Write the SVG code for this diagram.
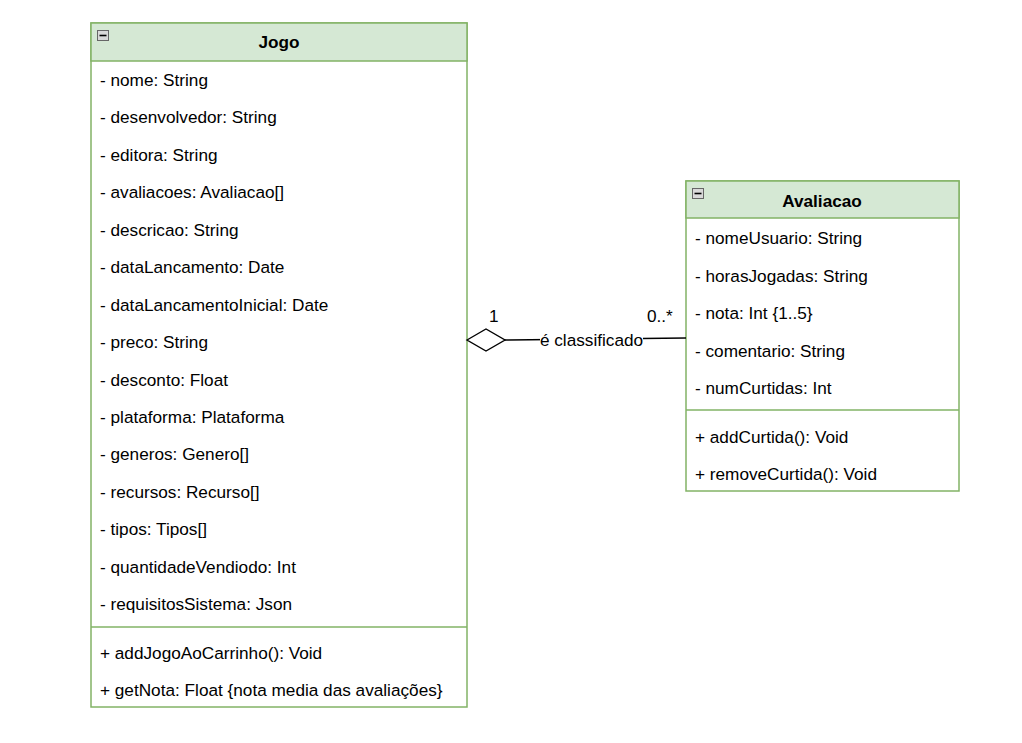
<svg xmlns="http://www.w3.org/2000/svg" width="1022" height="743" viewBox="0 0 1022 743">
<style>
text{font-family:"Liberation Sans",Arial,sans-serif;font-size:17.2px;fill:#000}
.title{font-weight:bold;text-anchor:middle}
.box{fill:#fff;stroke:#82b366;stroke-width:1.5}
.head{fill:#d5e8d4;stroke:#82b366;stroke-width:1.5}
.div{stroke:#82b366;stroke-width:1.5}
.ico{fill:#d9d9d9;stroke:#666;stroke-width:1}
.conn{fill:none;stroke:#000;stroke-width:1.4}
</style>
<rect width="1022" height="743" fill="#fff"/>
<g id="Jogo">
<rect class="box" x="91" y="23" width="376" height="684"/>
<rect class="head" x="91" y="23" width="376" height="38"/>
<rect class="ico" x="97.5" y="30.5" width="11" height="10"/>
<line x1="99.5" y1="35.5" x2="106.5" y2="35.5" stroke="#000" stroke-width="1.6"/>
<text class="title" x="279" y="48">Jogo</text>
<text x="100" y="86">- nome: String</text>
<text x="100" y="123.4">- desenvolvedor: String</text>
<text x="100" y="160.9">- editora: String</text>
<text x="100" y="198.3">- avaliacoes: Avaliacao[]</text>
<text x="100" y="235.8">- descricao: String</text>
<text x="100" y="273.2">- dataLancamento: Date</text>
<text x="100" y="310.6">- dataLancamentoInicial: Date</text>
<text x="100" y="348.1">- preco: String</text>
<text x="100" y="385.5">- desconto: Float</text>
<text x="100" y="423">- plataforma: Plataforma</text>
<text x="100" y="460.4">- generos: Genero[]</text>
<text x="100" y="497.8">- recursos: Recurso[]</text>
<text x="100" y="535.3">- tipos: Tipos[]</text>
<text x="100" y="572.7">- quantidadeVendiodo: Int</text>
<text x="100" y="610.2">- requisitosSistema: Json</text>
<line class="div" x1="91" y1="627" x2="467" y2="627"/>
<text x="100" y="658.5">+ addJogoAoCarrinho(): Void</text>
<text x="100" y="696">+ getNota: Float {nota media das avaliações}</text>
</g>
<g id="Avaliacao">
<rect class="box" x="686" y="181" width="273" height="310"/>
<rect class="head" x="686" y="181" width="273" height="37"/>
<rect class="ico" x="692.5" y="188.5" width="11" height="10"/>
<line x1="694.5" y1="193.5" x2="701.5" y2="193.5" stroke="#000" stroke-width="1.6"/>
<text class="title" x="822" y="207">Avaliacao</text>
<text x="695" y="244">- nomeUsuario: String</text>
<text x="695" y="281.5">- horasJogadas: String</text>
<text x="695" y="319">- nota: Int {1..5}</text>
<text x="695" y="356.5">- comentario: String</text>
<text x="695" y="394">- numCurtidas: Int</text>
<line class="div" x1="686" y1="410" x2="959" y2="410"/>
<text x="695" y="442.5">+ addCurtida(): Void</text>
<text x="695" y="480">+ removeCurtida(): Void</text>
</g>
<g id="connectors">
<line class="conn" x1="505" y1="340" x2="686" y2="338"/>
<polygon points="467,340 486,329 505,340 486,351" fill="#fff" stroke="#000" stroke-width="1.4"/>
<rect x="540" y="330" width="103" height="20" fill="#fff"/>
<text x="591.5" y="346" text-anchor="middle">é classificado</text>
<text x="489" y="322">1</text>
<text x="647" y="322">0..*</text>
</g>
</svg>
